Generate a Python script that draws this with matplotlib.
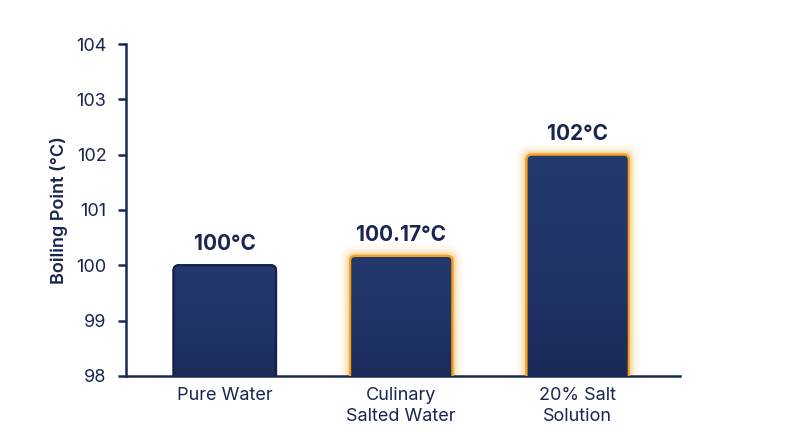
import numpy as np
import matplotlib
matplotlib.use("Agg")
from matplotlib import pyplot as plt
from matplotlib.patches import FancyBboxPatch
from matplotlib.colors import LinearSegmentedColormap

plt.rcParams['font.family'] = ['Inter', 'DejaVu Sans']

categories = ["Pure Water", "Culinary\nSalted Water", "20% Salt\nSolution"]
values = [100.0, 100.17, 102.0]
value_labels = ["100°C", "100.17°C", "102°C"]
glow = [False, True, True]

navy = "#1b2a55"
text_col = "#1a2550"
orange = "#f5a01f"
ymin, ymax = 98, 104
width = 0.58

fig = plt.figure(figsize=(8, 4.47), dpi=100)
ax = fig.add_axes([0.1575, 0.159, 0.6925, 0.7425])
ax.set_xlim(-0.56, 2.58)
ax.set_ylim(ymin, ymax)

cmap = LinearSegmentedColormap.from_list("bar", ["#192956", "#203466", "#24396d"])
grad = np.linspace(0, 1, 256).reshape(-1, 1)

rx = 0.03
aspect = 3.1
for i, (v, g) in enumerate(zip(values, glow)):
    x0 = i - width / 2
    y0 = ymin - 0.3
    h = v - y0
    if g:
        for lw, a in [(16, 0.03), (13, 0.04), (10, 0.05), (8, 0.07), (6, 0.09), (4, 0.14)]:
            p = FancyBboxPatch((x0, y0), width, h,
                               boxstyle=f"round,pad=0,rounding_size={rx}",
                               mutation_aspect=aspect, facecolor="none",
                               edgecolor=orange, linewidth=lw, alpha=a, zorder=2)
            ax.add_patch(p)
    patch = FancyBboxPatch((x0, y0), width, h,
                           boxstyle=f"round,pad=0,rounding_size={rx}",
                           mutation_aspect=aspect, facecolor=navy,
                           edgecolor=orange if g else "#14214a",
                           linewidth=1.6, zorder=3)
    ax.add_patch(patch)
    im = ax.imshow(grad, extent=(x0, x0 + width, y0, v), origin="lower",
                   cmap=cmap, aspect="auto", zorder=3.5)
    im.set_clip_path(patch)
    edge = FancyBboxPatch((x0, y0), width, h,
                          boxstyle=f"round,pad=0,rounding_size={rx}",
                          mutation_aspect=aspect, facecolor="none",
                          edgecolor=orange if g else "#14214a",
                          linewidth=1.6, zorder=4)
    ax.add_patch(edge)
    ax.annotate(value_labels[i], (i, v), xytext=(0, 8), textcoords="offset points",
                ha="center", va="bottom", fontsize=15, fontweight="bold",
                color=text_col, zorder=5)

ax.set_xticks(range(len(categories)))
ax.set_xticklabels(categories, fontsize=13, color=text_col, linespacing=1.3)
ax.tick_params(axis="x", length=0, pad=8)
ax.set_yticks(range(ymin, ymax + 1))
ax.tick_params(axis="y", length=6, width=1.8, color=navy, labelsize=13,
               labelcolor=text_col, pad=8)
ax.set_ylabel("Boiling Point (°C)", fontsize=13, fontweight="semibold",
              color=text_col, labelpad=6)

for s in ["top", "right"]:
    ax.spines[s].set_visible(False)
for s in ["left", "bottom"]:
    ax.spines[s].set_color(navy)
    ax.spines[s].set_linewidth(1.8)

fig.savefig("out.png", dpi=100)
